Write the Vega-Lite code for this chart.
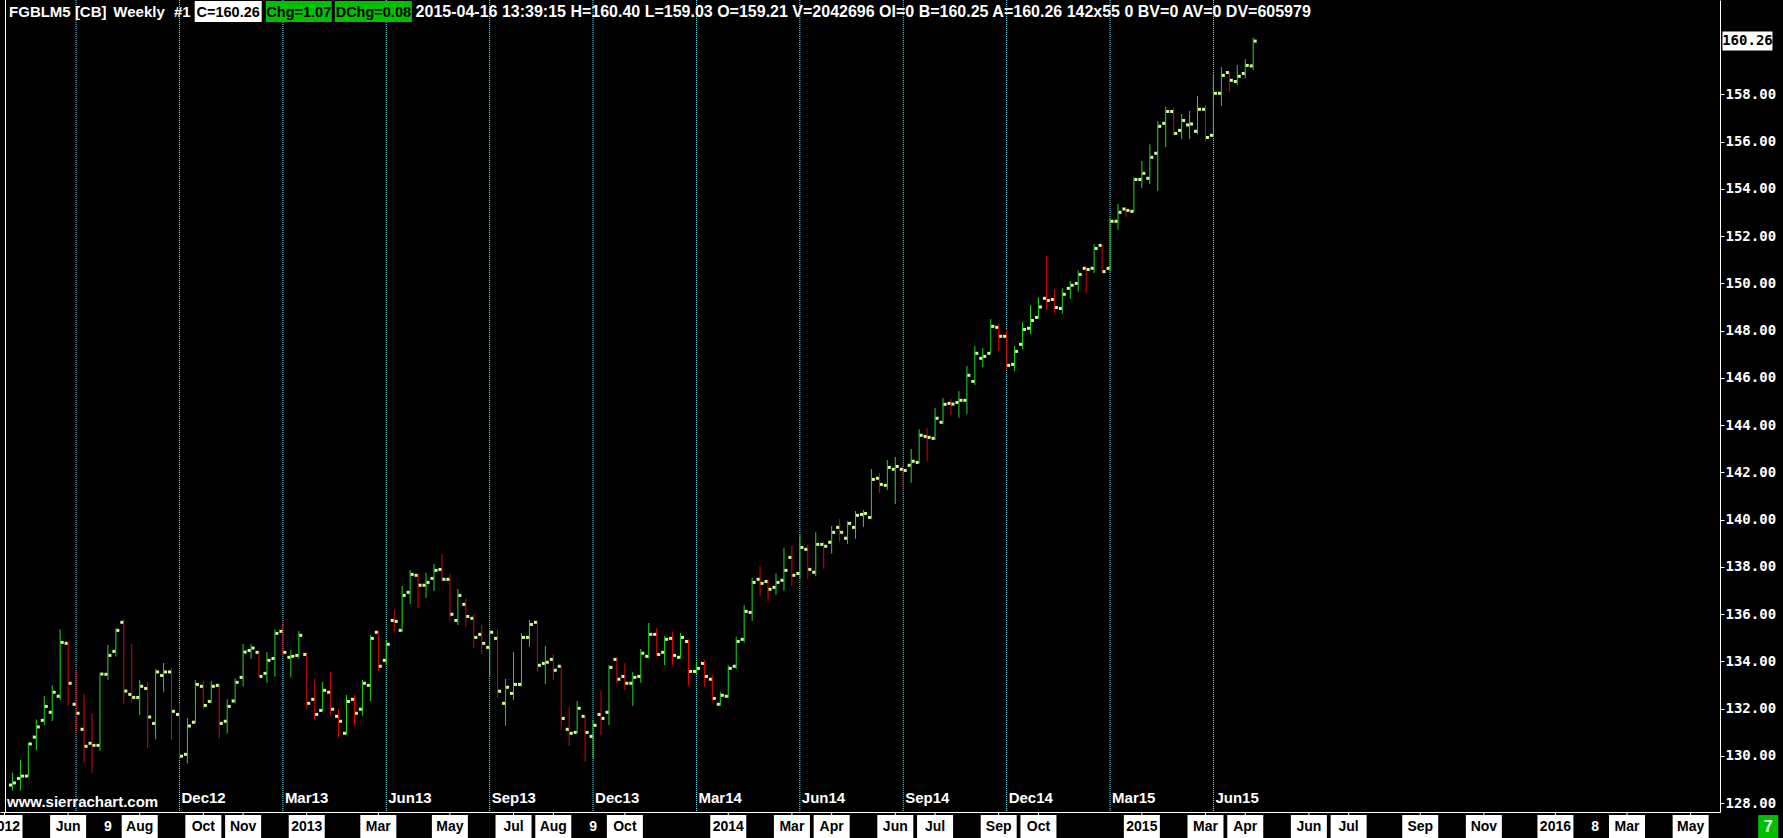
{
  "$schema": "https://vega.github.io/schema/vega-lite/v6.json",
  "width": 1720,
  "height": 812,
  "autosize": {"type": "none"},
  "padding": {"left": 0, "top": 0, "right": 63, "bottom": 26},
  "background": "#000000",
  "config": {"view": {"stroke": null}},
  "datasets": {
    "bars": [
      {"d":"2012-04-16","o":128.76,"h":129.28,"l":128.52,"c":128.85},
      {"d":"2012-04-23","o":129.04,"h":129.82,"l":128.52,"c":129.14},
      {"d":"2012-04-30","o":129.14,"h":130.57,"l":129.11,"c":130.50},
      {"d":"2012-05-07","o":130.79,"h":131.54,"l":130.24,"c":131.22},
      {"d":"2012-05-14","o":131.50,"h":132.53,"l":131.30,"c":132.09},
      {"d":"2012-05-21","o":131.84,"h":132.98,"l":131.47,"c":132.69},
      {"d":"2012-05-28","o":132.52,"h":135.35,"l":132.36,"c":134.80},
      {"d":"2012-06-04","o":134.76,"h":134.82,"l":132.12,"c":133.07},
      {"d":"2012-06-11","o":132.18,"h":133.62,"l":130.95,"c":131.80},
      {"d":"2012-06-18","o":131.12,"h":132.61,"l":129.71,"c":130.40},
      {"d":"2012-06-25","o":130.53,"h":131.80,"l":129.28,"c":130.44},
      {"d":"2012-07-02","o":130.44,"h":133.52,"l":130.20,"c":133.46},
      {"d":"2012-07-09","o":133.45,"h":134.69,"l":133.21,"c":134.25},
      {"d":"2012-07-16","o":134.42,"h":135.39,"l":134.20,"c":135.31},
      {"d":"2012-07-23","o":135.65,"h":135.78,"l":132.21,"c":132.74},
      {"d":"2012-07-30","o":132.60,"h":134.73,"l":132.25,"c":132.47},
      {"d":"2012-08-06","o":132.47,"h":133.21,"l":131.73,"c":132.94},
      {"d":"2012-08-13","o":132.85,"h":133.12,"l":130.34,"c":131.64},
      {"d":"2012-08-20","o":131.37,"h":133.66,"l":130.70,"c":133.55},
      {"d":"2012-08-27","o":133.40,"h":133.93,"l":132.71,"c":133.55},
      {"d":"2012-09-03","o":133.55,"h":133.72,"l":130.67,"c":131.88},
      {"d":"2012-09-10","o":131.75,"h":132.22,"l":129.89,"c":129.98},
      {"d":"2012-09-17","o":130.06,"h":131.61,"l":129.68,"c":131.26},
      {"d":"2012-09-24","o":131.42,"h":133.21,"l":131.37,"c":133.02},
      {"d":"2012-10-01","o":132.94,"h":133.17,"l":131.99,"c":132.13},
      {"d":"2012-10-08","o":132.30,"h":133.17,"l":132.22,"c":132.94},
      {"d":"2012-10-15","o":132.98,"h":133.07,"l":130.72,"c":131.37},
      {"d":"2012-10-22","o":131.46,"h":132.39,"l":130.94,"c":132.09},
      {"d":"2012-10-29","o":132.32,"h":133.28,"l":132.22,"c":133.11},
      {"d":"2012-11-05","o":133.32,"h":134.73,"l":132.93,"c":134.39},
      {"d":"2012-11-12","o":134.46,"h":134.73,"l":134.10,"c":134.56},
      {"d":"2012-11-19","o":134.38,"h":134.46,"l":133.34,"c":133.36},
      {"d":"2012-11-26","o":133.49,"h":134.39,"l":133.09,"c":134.04},
      {"d":"2012-12-03","o":134.12,"h":135.35,"l":133.35,"c":135.18},
      {"d":"2012-12-10","o":135.27,"h":135.68,"l":134.20,"c":134.38},
      {"d":"2012-12-17","o":134.17,"h":134.48,"l":133.31,"c":134.21},
      {"d":"2012-12-24","o":134.25,"h":135.28,"l":134.11,"c":135.10},
      {"d":"2012-12-31","o":134.29,"h":134.36,"l":131.99,"c":132.22},
      {"d":"2013-01-07","o":132.39,"h":133.25,"l":131.51,"c":131.75},
      {"d":"2013-01-14","o":131.92,"h":133.12,"l":131.87,"c":132.77},
      {"d":"2013-01-21","o":132.69,"h":133.55,"l":131.70,"c":131.97},
      {"d":"2013-01-28","o":131.67,"h":131.98,"l":130.77,"c":131.46},
      {"d":"2013-02-04","o":130.95,"h":132.57,"l":130.91,"c":132.30},
      {"d":"2013-02-11","o":132.39,"h":132.57,"l":131.30,"c":131.80},
      {"d":"2013-02-18","o":131.97,"h":133.21,"l":131.70,"c":133.07},
      {"d":"2013-02-25","o":132.98,"h":135.11,"l":132.32,"c":134.97},
      {"d":"2013-03-04","o":135.23,"h":135.27,"l":133.60,"c":133.79},
      {"d":"2013-03-11","o":134.04,"h":134.90,"l":133.84,"c":134.72},
      {"d":"2013-03-18","o":135.73,"h":136.17,"l":135.21,"c":135.69},
      {"d":"2013-03-25","o":135.31,"h":137.19,"l":135.25,"c":136.79},
      {"d":"2013-04-01","o":136.92,"h":137.86,"l":136.43,"c":137.68},
      {"d":"2013-04-08","o":137.64,"h":137.70,"l":136.26,"c":137.22},
      {"d":"2013-04-15","o":137.22,"h":137.75,"l":136.68,"c":137.34},
      {"d":"2013-04-22","o":137.51,"h":138.12,"l":136.98,"c":137.85},
      {"d":"2013-04-29","o":137.89,"h":138.54,"l":137.37,"c":137.47},
      {"d":"2013-05-06","o":137.47,"h":137.70,"l":135.75,"c":135.99},
      {"d":"2013-05-13","o":135.73,"h":137.06,"l":135.54,"c":136.79},
      {"d":"2013-05-20","o":136.41,"h":136.66,"l":135.45,"c":135.90},
      {"d":"2013-05-27","o":135.82,"h":136.00,"l":134.58,"c":135.01},
      {"d":"2013-06-03","o":135.14,"h":135.54,"l":134.31,"c":134.76},
      {"d":"2013-06-10","o":134.59,"h":135.28,"l":133.35,"c":135.23},
      {"d":"2013-06-17","o":134.97,"h":135.37,"l":132.45,"c":132.73},
      {"d":"2013-06-24","o":132.22,"h":133.25,"l":131.27,"c":132.90},
      {"d":"2013-07-01","o":132.64,"h":134.39,"l":132.36,"c":133.02},
      {"d":"2013-07-08","o":133.02,"h":135.20,"l":132.93,"c":135.01},
      {"d":"2013-07-15","o":135.01,"h":135.75,"l":134.62,"c":135.56},
      {"d":"2013-07-22","o":135.65,"h":135.71,"l":133.56,"c":133.83},
      {"d":"2013-07-29","o":133.91,"h":134.65,"l":133.04,"c":133.96},
      {"d":"2013-08-05","o":134.08,"h":134.31,"l":133.21,"c":133.62},
      {"d":"2013-08-12","o":133.79,"h":133.83,"l":131.09,"c":131.58},
      {"d":"2013-08-19","o":131.12,"h":132.06,"l":130.41,"c":130.95},
      {"d":"2013-08-26","o":130.99,"h":132.32,"l":130.95,"c":132.01},
      {"d":"2013-09-02","o":131.67,"h":131.71,"l":129.74,"c":130.99},
      {"d":"2013-09-09","o":130.82,"h":131.51,"l":129.88,"c":131.29},
      {"d":"2013-09-16","o":131.75,"h":132.74,"l":130.88,"c":131.58},
      {"d":"2013-09-23","o":131.84,"h":133.84,"l":131.30,"c":133.74},
      {"d":"2013-09-30","o":134.08,"h":134.17,"l":133.05,"c":133.24},
      {"d":"2013-10-07","o":133.36,"h":133.93,"l":132.78,"c":133.07},
      {"d":"2013-10-14","o":133.07,"h":133.55,"l":132.11,"c":133.32},
      {"d":"2013-10-21","o":133.36,"h":134.52,"l":133.09,"c":134.34},
      {"d":"2013-10-28","o":134.21,"h":135.62,"l":134.12,"c":135.14},
      {"d":"2013-11-04","o":135.14,"h":135.41,"l":134.20,"c":134.29},
      {"d":"2013-11-11","o":134.38,"h":135.07,"l":133.84,"c":134.93},
      {"d":"2013-11-18","o":134.97,"h":135.24,"l":133.84,"c":134.25},
      {"d":"2013-11-25","o":134.17,"h":135.20,"l":134.12,"c":135.01},
      {"d":"2013-12-02","o":134.84,"h":134.93,"l":132.97,"c":133.57},
      {"d":"2013-12-09","o":133.57,"h":133.96,"l":133.45,"c":133.70},
      {"d":"2013-12-16","o":133.91,"h":134.05,"l":132.93,"c":133.36},
      {"d":"2013-12-23","o":133.24,"h":133.42,"l":132.32,"c":132.43},
      {"d":"2013-12-30","o":132.18,"h":132.70,"l":132.11,"c":132.56},
      {"d":"2014-01-06","o":132.52,"h":133.84,"l":132.45,"c":133.70},
      {"d":"2014-01-13","o":133.79,"h":135.03,"l":133.67,"c":134.84},
      {"d":"2014-01-20","o":134.93,"h":136.38,"l":134.79,"c":136.11},
      {"d":"2014-01-27","o":136.07,"h":137.53,"l":135.71,"c":137.34},
      {"d":"2014-02-03","o":137.47,"h":138.03,"l":136.76,"c":137.30},
      {"d":"2014-02-10","o":137.38,"h":137.44,"l":136.55,"c":137.05},
      {"d":"2014-02-17","o":137.13,"h":137.72,"l":136.82,"c":137.34},
      {"d":"2014-02-24","o":137.43,"h":138.80,"l":136.99,"c":137.85},
      {"d":"2014-03-03","o":138.40,"h":138.88,"l":137.20,"c":137.64},
      {"d":"2014-03-10","o":137.72,"h":139.39,"l":137.50,"c":138.82},
      {"d":"2014-03-17","o":138.74,"h":138.97,"l":137.50,"c":137.89},
      {"d":"2014-03-24","o":137.77,"h":139.47,"l":137.61,"c":138.95},
      {"d":"2014-03-31","o":138.95,"h":139.08,"l":137.92,"c":138.87},
      {"d":"2014-04-07","o":139.04,"h":139.73,"l":138.56,"c":139.46},
      {"d":"2014-04-14","o":139.67,"h":140.02,"l":139.06,"c":139.46},
      {"d":"2014-04-21","o":139.21,"h":139.93,"l":138.97,"c":139.84},
      {"d":"2014-04-28","o":139.67,"h":140.36,"l":139.19,"c":140.18},
      {"d":"2014-05-05","o":140.22,"h":140.40,"l":139.69,"c":140.26},
      {"d":"2014-05-12","o":140.09,"h":142.14,"l":140.02,"c":141.70},
      {"d":"2014-05-19","o":141.75,"h":141.97,"l":141.14,"c":141.49},
      {"d":"2014-05-26","o":141.45,"h":142.52,"l":141.25,"c":142.21},
      {"d":"2014-06-02","o":142.13,"h":142.65,"l":140.66,"c":142.25},
      {"d":"2014-06-09","o":142.13,"h":142.38,"l":141.22,"c":142.08},
      {"d":"2014-06-16","o":142.30,"h":142.99,"l":141.56,"c":142.47},
      {"d":"2014-06-23","o":142.42,"h":143.83,"l":142.38,"c":143.57},
      {"d":"2014-06-30","o":143.52,"h":143.88,"l":142.49,"c":143.48},
      {"d":"2014-07-07","o":143.44,"h":144.72,"l":143.37,"c":144.29},
      {"d":"2014-07-14","o":144.12,"h":145.15,"l":144.05,"c":144.88},
      {"d":"2014-07-21","o":144.92,"h":145.10,"l":144.43,"c":144.89},
      {"d":"2014-07-28","o":144.96,"h":145.44,"l":144.31,"c":145.05},
      {"d":"2014-08-04","o":145.05,"h":146.50,"l":144.47,"c":146.11},
      {"d":"2014-08-11","o":145.85,"h":147.35,"l":145.70,"c":147.04},
      {"d":"2014-08-18","o":146.83,"h":147.26,"l":146.46,"c":146.91},
      {"d":"2014-08-25","o":147.04,"h":148.49,"l":147.01,"c":148.18},
      {"d":"2014-09-01","o":148.14,"h":148.28,"l":147.14,"c":147.76},
      {"d":"2014-09-08","o":147.76,"h":148.07,"l":146.33,"c":146.53},
      {"d":"2014-09-15","o":146.57,"h":147.35,"l":146.29,"c":147.12},
      {"d":"2014-09-22","o":147.42,"h":148.36,"l":147.22,"c":148.05},
      {"d":"2014-09-29","o":148.10,"h":149.08,"l":147.87,"c":148.43},
      {"d":"2014-10-06","o":148.56,"h":149.42,"l":148.52,"c":149.00},
      {"d":"2014-10-13","o":149.37,"h":151.16,"l":148.87,"c":149.28},
      {"d":"2014-10-20","o":149.32,"h":149.76,"l":148.76,"c":148.98},
      {"d":"2014-10-27","o":148.94,"h":149.79,"l":148.72,"c":149.54},
      {"d":"2014-11-03","o":149.79,"h":150.10,"l":149.34,"c":149.92},
      {"d":"2014-11-10","o":150.00,"h":150.55,"l":149.65,"c":150.38},
      {"d":"2014-11-17","o":150.64,"h":150.72,"l":149.59,"c":150.59},
      {"d":"2014-11-24","o":150.64,"h":151.65,"l":150.44,"c":151.48},
      {"d":"2014-12-01","o":151.61,"h":151.65,"l":150.44,"c":150.50},
      {"d":"2014-12-08","o":150.64,"h":152.75,"l":150.50,"c":152.63},
      {"d":"2014-12-15","o":152.63,"h":153.36,"l":152.27,"c":153.01},
      {"d":"2014-12-22","o":153.15,"h":153.22,"l":152.82,"c":153.09},
      {"d":"2014-12-29","o":153.05,"h":154.49,"l":153.04,"c":154.40},
      {"d":"2015-01-05","o":154.40,"h":155.18,"l":154.04,"c":154.66},
      {"d":"2015-01-12","o":154.45,"h":155.89,"l":154.21,"c":155.34},
      {"d":"2015-01-19","o":155.51,"h":156.86,"l":153.92,"c":156.65},
      {"d":"2015-01-26","o":156.78,"h":157.47,"l":155.77,"c":157.28},
      {"d":"2015-02-02","o":157.28,"h":157.42,"l":156.27,"c":156.35},
      {"d":"2015-02-09","o":156.48,"h":157.17,"l":156.11,"c":156.90},
      {"d":"2015-02-16","o":156.71,"h":157.30,"l":156.11,"c":156.75},
      {"d":"2015-02-23","o":156.44,"h":157.93,"l":156.31,"c":157.37},
      {"d":"2015-03-02","o":157.37,"h":157.55,"l":156.00,"c":156.18},
      {"d":"2015-03-09","o":156.27,"h":158.86,"l":156.20,"c":158.05},
      {"d":"2015-03-16","o":158.05,"h":159.16,"l":157.51,"c":158.81},
      {"d":"2015-03-23","o":158.93,"h":158.96,"l":158.10,"c":158.60},
      {"d":"2015-03-30","o":158.55,"h":159.25,"l":158.40,"c":158.77},
      {"d":"2015-04-06","o":158.89,"h":159.50,"l":158.68,"c":159.23},
      {"d":"2015-04-13","o":159.21,"h":160.40,"l":159.03,"c":160.26}
    ],
    "rolls": [
      {"d":"2012-06-11","label":""},
      {"d":"2012-09-10","label":"Dec12"},
      {"d":"2012-12-10","label":"Mar13"},
      {"d":"2013-03-11","label":"Jun13"},
      {"d":"2013-06-10","label":"Sep13"},
      {"d":"2013-09-09","label":"Dec13"},
      {"d":"2013-12-09","label":"Mar14"},
      {"d":"2014-03-10","label":"Jun14"},
      {"d":"2014-06-09","label":"Sep14"},
      {"d":"2014-09-08","label":"Dec14"},
      {"d":"2014-12-08","label":"Mar15"},
      {"d":"2015-03-09","label":"Jun15"}
    ],
    "months": [
      {"d":"2012-04-09","label":"2012"},
      {"d":"2012-06-04","label":"Jun"},
      {"d":"2012-08-06","label":"Aug"},
      {"d":"2012-10-01","label":"Oct"},
      {"d":"2012-11-05","label":"Nov"},
      {"d":"2012-12-31","label":"2013"},
      {"d":"2013-03-04","label":"Mar"},
      {"d":"2013-05-06","label":"May"},
      {"d":"2013-07-01","label":"Jul"},
      {"d":"2013-08-05","label":"Aug"},
      {"d":"2013-10-07","label":"Oct"},
      {"d":"2014-01-06","label":"2014"},
      {"d":"2014-03-03","label":"Mar"},
      {"d":"2014-04-07","label":"Apr"},
      {"d":"2014-06-02","label":"Jun"},
      {"d":"2014-07-07","label":"Jul"},
      {"d":"2014-09-01","label":"Sep"},
      {"d":"2014-10-06","label":"Oct"},
      {"d":"2015-01-05","label":"2015"},
      {"d":"2015-03-02","label":"Mar"},
      {"d":"2015-04-06","label":"Apr"},
      {"d":"2015-06-01","label":"Jun"},
      {"d":"2015-07-06","label":"Jul"},
      {"d":"2015-09-07","label":"Sep"},
      {"d":"2015-11-02","label":"Nov"},
      {"d":"2016-01-04","label":"2016"},
      {"d":"2016-03-07","label":"Mar"},
      {"d":"2016-05-02","label":"May"}
    ],
    "days": [
      {"d":"2012-07-09","label":"9"},
      {"d":"2013-09-09","label":"9"},
      {"d":"2016-02-08","label":"8"}
    ]
  },
  "layer": [
    {
      "data": {"name": "rolls"},
      "mark": {"type": "rule", "color": "#86eaff", "strokeDash": [1, 1], "strokeWidth": 1},
      "encoding": {
        "x": {
          "field": "d", "type": "temporal", "title": null,
          "scale": {"type": "utc", "domain": [
            {"year": 2012, "month": 4, "date": 9, "hours": 10, "minutes": 30, "utc": true},
            {"year": 2016, "month": 5, "date": 23, "hours": 10, "minutes": 30, "utc": true}
          ]},
          "axis": {"title": null, "labels": false, "ticks": false, "grid": false, "domain": true, "domainColor": "#ffffff", "domainWidth": 1}
        }
      }
    },
    {
      "data": {"values": [{}]},
      "mark": {"type": "rule", "color": "#ffffff", "strokeWidth": 1},
      "encoding": {
        "x": {"datum": {"year": 2012, "month": 4, "date": 9, "hours": 21, "minutes": 0, "utc": true}, "type": "temporal"}
      }
    },
    {
      "data": {"name": "bars"},
      "mark": {"type": "rule", "strokeWidth": 1},
      "encoding": {
        "x": {"field": "d", "type": "temporal", "title": null},
        "y": {
          "field": "l", "type": "quantitative", "title": null,
          "scale": {"domain": [127.619, 162.0], "nice": false, "zero": false},
          "axis": {"orient": "right", "title": null, "values": [128,130,132,134,136,138,140,142,144,146,148,150,152,154,156,158], "format": ".2f", "grid": false, "domainColor": "#ffffff", "tickColor": "#ffffff", "tickSize": 4, "labelColor": "#ffffff", "labelFont": "DejaVu Sans Mono", "labelFontWeight": "bold", "labelFontSize": 14, "labelPadding": 1}
        },
        "y2": {"field": "h"},
        "color": {"condition": {"test": "datum.c >= datum.o", "value": "#22d622"}, "value": "#e00000"}
      }
    },
    {
      "data": {"name": "bars"},
      "mark": {"type": "point", "shape": "M-2.33,-1H-0.33V1H-2.33Z", "filled": true, "size": 9, "color": "#ccff90", "opacity": 1, "strokeWidth": 0},
      "encoding": {
        "x": {"field": "d", "type": "temporal", "title": null},
        "y": {"field": "o", "type": "quantitative", "title": null}
      }
    },
    {
      "data": {"name": "bars"},
      "mark": {"type": "point", "shape": "M0.33,-1H2.33V1H0.33Z", "filled": true, "size": 9, "color": "#ccff90", "opacity": 1, "strokeWidth": 0},
      "encoding": {
        "x": {"field": "d", "type": "temporal", "title": null},
        "y": {"field": "c", "type": "quantitative", "title": null}
      }
    },
    {
      "data": {"name": "rolls"},
      "transform": [{"filter": "datum.label != ''"}],
      "mark": {"type": "text", "align": "left", "baseline": "alphabetic", "dx": 2, "font": "Liberation Sans", "fontWeight": "bold", "fontSize": 15, "color": "#ffffff"},
      "encoding": {
        "x": {"field": "d", "type": "temporal", "title": null},
        "y": {"datum": 127.987, "type": "quantitative"},
        "text": {"field": "label"}
      }
    },
    {
      "data": {"values": [{}]},
      "mark": {"type": "text", "text": "www.sierrachart.com", "align": "left", "baseline": "alphabetic", "font": "Liberation Sans", "fontWeight": "bold", "fontSize": 15, "color": "#ffffff"},
      "encoding": {
        "x": {"datum": {"year": 2012, "month": 4, "date": 11, "hours": 4, "minutes": 30, "utc": true}, "type": "temporal"},
        "y": {"datum": 127.819, "type": "quantitative"}
      }
    },
    {
      "data": {"name": "months"},
      "mark": {"type": "rule", "color": "#ffffff", "strokeWidth": 1},
      "encoding": {
        "x": {"field": "d", "type": "temporal", "title": null},
        "y": {"datum": 127.60, "type": "quantitative"},
        "y2": {"datum": 127.49}
      }
    },
    {
      "data": {"name": "months"},
      "mark": {"type": "bar", "color": "#ffffff", "orient": "vertical"},
      "encoding": {
        "x": {"field": "d", "type": "temporal", "title": null},
        "y": {"datum": 127.49, "type": "quantitative"},
        "y2": {"datum": 126.4},
        "size": {"field": "label", "type": "ordinal", "legend": null,
          "scale": {"domain": ["2012","2013","2014","2015","2016","Jun","Jul","Aug","Sep","Oct","Nov","Mar","Apr","May"],
                    "range": [36,36,36,36,36,25,20,27,26,24,26,27,25,28]}}
      }
    },
    {
      "data": {"name": "months"},
      "mark": {"type": "text", "align": "center", "baseline": "middle", "font": "Liberation Sans", "fontWeight": "bold", "fontSize": 14, "color": "#000000"},
      "encoding": {
        "x": {"field": "d", "type": "temporal", "title": null},
        "y": {"datum": 127.0, "type": "quantitative"},
        "text": {"field": "label"}
      }
    },
    {
      "data": {"name": "days"},
      "mark": {"type": "text", "align": "center", "baseline": "middle", "font": "Liberation Sans", "fontWeight": "bold", "fontSize": 14, "color": "#ffffff"},
      "encoding": {
        "x": {"field": "d", "type": "temporal", "title": null},
        "y": {"datum": 127.0, "type": "quantitative"},
        "text": {"field": "label"}
      }
    },
    {
      "data": {"values": [{}]},
      "mark": {"type": "text", "text": "FGBLM5 [CB]", "align": "left", "baseline": "alphabetic", "font": "Liberation Sans", "fontWeight": "bold", "fontSize": 15, "color": "#ffffff"},
      "encoding": {
        "x": {"datum": {"year": 2012, "month": 4, "date": 13, "hours": 0, "minutes": 0, "utc": true}, "type": "temporal"},
        "y": {"datum": 161.301, "type": "quantitative"}
      }
    },
    {
      "data": {"values": [{}]},
      "mark": {"type": "text", "text": "Weekly", "align": "left", "baseline": "alphabetic", "font": "Liberation Sans", "fontWeight": "bold", "fontSize": 15, "color": "#ffffff"},
      "encoding": {
        "x": {"datum": {"year": 2012, "month": 7, "date": 13, "hours": 19, "minutes": 30, "utc": true}, "type": "temporal"},
        "y": {"datum": 161.301, "type": "quantitative"}
      }
    },
    {
      "data": {"values": [{}]},
      "mark": {"type": "text", "text": "#1", "align": "left", "baseline": "alphabetic", "font": "Liberation Sans", "fontWeight": "bold", "fontSize": 15, "color": "#ffffff"},
      "encoding": {
        "x": {"datum": {"year": 2012, "month": 9, "date": 5, "hours": 4, "minutes": 30, "utc": true}, "type": "temporal"},
        "y": {"datum": 161.301, "type": "quantitative"}
      }
    },
    {
      "data": {"values": [{}]},
      "mark": {"type": "bar", "color": "#ffffff", "width": 67, "orient": "vertical"},
      "encoding": {
        "x": {"datum": {"year": 2012, "month": 10, "date": 22, "hours": 21, "minutes": 0, "utc": true}, "type": "temporal"},
        "y": {"datum": 161.96, "type": "quantitative"},
        "y2": {"datum": 161.07}
      }
    },
    {
      "data": {"values": [{}]},
      "mark": {"type": "text", "text": "C=160.26", "align": "center", "baseline": "alphabetic", "font": "Liberation Sans", "fontWeight": "bold", "fontSize": 14.5, "color": "#000000"},
      "encoding": {
        "x": {"datum": {"year": 2012, "month": 10, "date": 22, "hours": 21, "minutes": 0, "utc": true}, "type": "temporal"},
        "y": {"datum": 161.301, "type": "quantitative"}
      }
    },
    {
      "data": {"values": [{}]},
      "mark": {"type": "bar", "color": "#00c000", "width": 66, "orient": "vertical"},
      "encoding": {
        "x": {"datum": {"year": 2012, "month": 12, "date": 24, "hours": 0, "minutes": 0, "utc": true}, "type": "temporal"},
        "y": {"datum": 161.96, "type": "quantitative"},
        "y2": {"datum": 161.07}
      }
    },
    {
      "data": {"values": [{}]},
      "mark": {"type": "text", "text": "Chg=1.07", "align": "center", "baseline": "alphabetic", "font": "Liberation Sans", "fontWeight": "bold", "fontSize": 14.5, "color": "#000000"},
      "encoding": {
        "x": {"datum": {"year": 2012, "month": 12, "date": 24, "hours": 0, "minutes": 0, "utc": true}, "type": "temporal"},
        "y": {"datum": 161.301, "type": "quantitative"}
      }
    },
    {
      "data": {"values": [{}]},
      "mark": {"type": "bar", "color": "#00c000", "width": 77, "orient": "vertical"},
      "encoding": {
        "x": {"datum": {"year": 2013, "month": 2, "date": 27, "hours": 15, "minutes": 0, "utc": true}, "type": "temporal"},
        "y": {"datum": 161.96, "type": "quantitative"},
        "y2": {"datum": 161.07}
      }
    },
    {
      "data": {"values": [{}]},
      "mark": {"type": "text", "text": "DChg=0.08", "align": "center", "baseline": "alphabetic", "font": "Liberation Sans", "fontWeight": "bold", "fontSize": 14.5, "color": "#000000"},
      "encoding": {
        "x": {"datum": {"year": 2013, "month": 2, "date": 27, "hours": 15, "minutes": 0, "utc": true}, "type": "temporal"},
        "y": {"datum": 161.301, "type": "quantitative"}
      }
    },
    {
      "data": {"values": [{}]},
      "mark": {"type": "text", "text": "2015-04-16 13:39:15 H=160.40 L=159.03 O=159.21 V=2042696 OI=0 B=160.25 A=160.26 142x55 0 BV=0 AV=0 DV=605979", "align": "left", "baseline": "alphabetic", "font": "Liberation Sans", "fontWeight": "bold", "fontSize": 16, "color": "#ffffff"},
      "encoding": {
        "x": {"datum": {"year": 2013, "month": 4, "date": 5, "hours": 19, "minutes": 30, "utc": true}, "type": "temporal"},
        "y": {"datum": 161.301, "type": "quantitative"}
      }
    },
    {
      "data": {"values": [{}]},
      "mark": {"type": "bar", "color": "#ffffff", "width": 50, "orient": "vertical"},
      "encoding": {
        "x": {"datum": {"year": 2016, "month": 6, "date": 21, "hours": 0, "minutes": 0, "utc": true}, "type": "temporal"},
        "y": {"datum": 160.666, "type": "quantitative"},
        "y2": {"datum": 159.862}
      }
    },
    {
      "data": {"values": [{}]},
      "mark": {"type": "text", "text": "160.26", "align": "center", "baseline": "middle", "font": "DejaVu Sans Mono", "fontWeight": "bold", "fontSize": 14, "color": "#000000"},
      "encoding": {
        "x": {"datum": {"year": 2016, "month": 6, "date": 21, "hours": 0, "minutes": 0, "utc": true}, "type": "temporal"},
        "y": {"datum": 160.26, "type": "quantitative"}
      }
    },
    {
      "data": {"values": [{}]},
      "mark": {"type": "bar", "color": "#00c000", "width": 20, "orient": "vertical"},
      "encoding": {
        "x": {"datum": {"year": 2016, "month": 7, "date": 9, "hours": 6, "minutes": 0, "utc": true}, "type": "temporal"},
        "y": {"datum": 127.49, "type": "quantitative"},
        "y2": {"datum": 126.4}
      }
    },
    {
      "data": {"values": [{}]},
      "mark": {"type": "text", "text": "7", "align": "center", "baseline": "middle", "font": "Liberation Sans", "fontWeight": "bold", "fontSize": 16, "color": "#ffffff"},
      "encoding": {
        "x": {"datum": {"year": 2016, "month": 7, "date": 9, "hours": 6, "minutes": 0, "utc": true}, "type": "temporal"},
        "y": {"datum": 127.0, "type": "quantitative"}
      }
    }
  ]
}
